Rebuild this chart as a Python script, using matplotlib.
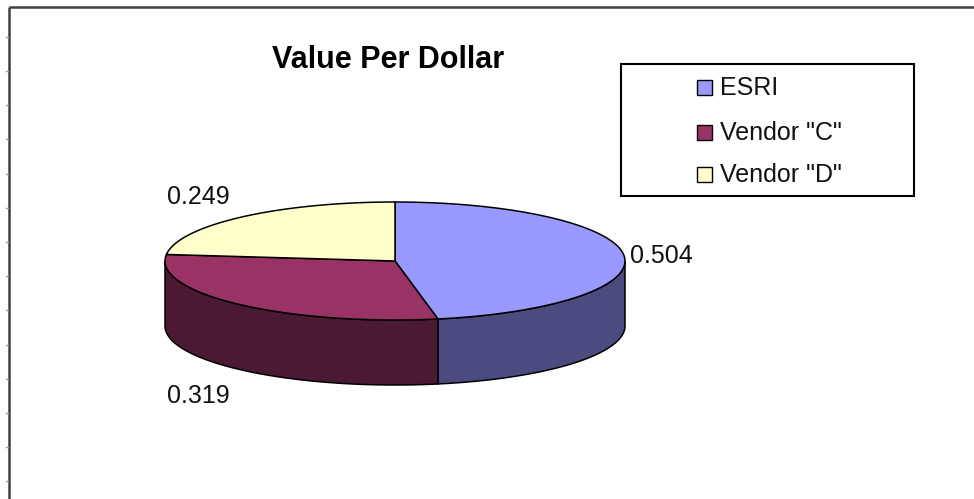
import numpy as np
import matplotlib.pyplot as plt
from matplotlib.patches import Polygon, Rectangle

# ---------------------------------------------------------------------------
title = 'Value Per Dollar'
labels = ['ESRI', 'Vendor "C"', 'Vendor "D"']
values = [0.504, 0.319, 0.249]
value_text = ['0.504', '0.319', '0.249']
top_colors = ['#9999ff', '#993366', '#ffffcc']
side_colors = ['#4b4b7f', '#4c1933', '#7f7f66']

plt.rcParams['font.family'] = ['Liberation Sans', 'DejaVu Sans']

W, H = 974, 499
fig = plt.figure(figsize=(W / 100, H / 100), dpi=100)
ax = fig.add_axes([0, 0, 1, 1])
ax.set_xlim(0, W)
ax.set_ylim(H, 0)
ax.axis('off')

# chart area frame (only top/left visible) with small tick marks
ax.plot([8.5, 8.5], [7, H], color='#404040', lw=1.8, solid_capstyle='butt')
ax.plot([8.5, W], [7, 7], color='#404040', lw=1.8, solid_capstyle='butt')
for k in range(14):
  yk = 36.7 + 34.2 * k
  ax.plot([5.5, 7.5], [yk, yk], color='#999999', lw=1)

# ---------------------------------------------------------------------------
# 3D pie geometry (pixels)
cx, cy, a, b, depth = 395, 261, 230, 59, 65

def ell(t):
  return cx + a * np.cos(t), cy - b * np.sin(t)

frac = np.array(values) / np.sum(values)
bounds = np.pi / 2 - np.concatenate([[0], np.cumsum(frac)]) * 2 * np.pi

# side walls (front half only)
for i in range(len(values)):
  t1, t2 = bounds[i], bounds[i + 1]
  lo, hi = max(t2, -np.pi), min(t1, 0)
  if lo >= hi:
    continue
  t = np.linspace(hi, lo, 80)
  x, y = ell(t)
  pts = np.vstack([np.column_stack([x, y]),
                   np.column_stack([x[::-1], y[::-1] + depth])])
  ax.add_patch(Polygon(pts, closed=True, facecolor=side_colors[i],
                       edgecolor='black', lw=1.1))

# top faces
for i in range(len(values)):
  t = np.linspace(bounds[i], bounds[i + 1], 120)
  x, y = ell(t)
  pts = np.vstack([[cx, cy], np.column_stack([x, y])])
  ax.add_patch(Polygon(pts, closed=True, facecolor=top_colors[i],
                       edgecolor='black', lw=1.1))

# data labels
label_pos = [(630, 263), (167, 403), (167, 204)]
for txt, (lx, ly) in zip(value_text, label_pos):
  ax.text(lx, ly, txt, fontsize=18, ha='left', va='baseline', color='#111111')

# title
ax.text(388, 68, title, fontsize=22, fontweight='bold', ha='center',
        va='baseline', color='black')

# legend
ax.add_patch(Rectangle((621, 64), 293, 132, facecolor='white',
                       edgecolor='black', lw=1.5))
leg_base = [95, 140, 182]
for lab, col, yb in zip(labels, top_colors, leg_base):
  ax.add_patch(Rectangle((697, yb - 15), 15, 15, facecolor=col,
                         edgecolor='black', lw=1))
  ax.text(720, yb, lab, fontsize=18, ha='left', va='baseline', color='#111111')

fig.savefig('out.png', dpi=100)
